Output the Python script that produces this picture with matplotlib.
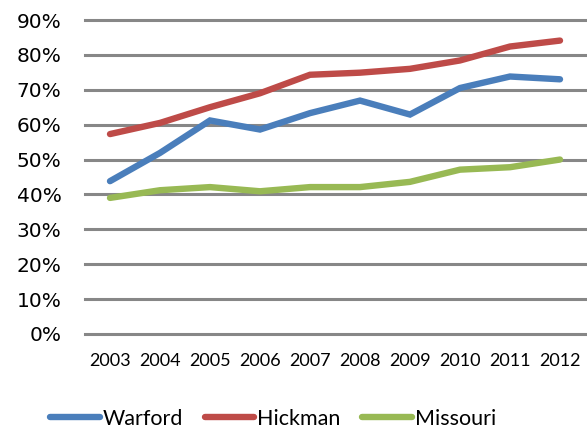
import matplotlib
matplotlib.use("Agg")
import matplotlib.pyplot as plt
from matplotlib.ticker import PercentFormatter

years = ["2003", "2004", "2005", "2006", "2007", "2008", "2009", "2010", "2011", "2012"]
warford = [0.438, 0.519, 0.612, 0.586, 0.633, 0.669, 0.629, 0.705, 0.738, 0.730]
hickman = [0.573, 0.605, 0.650, 0.690, 0.743, 0.749, 0.760, 0.784, 0.824, 0.841]
missouri = [0.390, 0.412, 0.421, 0.409, 0.421, 0.421, 0.436, 0.471, 0.478, 0.500]

series = [
    ("Warford", warford, "#4a7ebb"),
    ("Hickman", hickman, "#be4b48"),
    ("Missouri", missouri, "#98b954"),
]

fig = plt.figure(figsize=(5.87, 4.29), dpi=100)
ax = fig.add_axes([85 / 587, 1 - 335 / 429, 500 / 587, 315 / 429])

x = list(range(len(years)))
for name, vals, color in series:
    ax.plot(x, vals, color=color, linewidth=4.6, label=name,
            solid_capstyle="round", solid_joinstyle="miter", zorder=3)

ax.set_xlim(-0.5, len(years) - 0.5)
ax.set_ylim(-0.003, 0.9)
ax.set_yticks([i / 10 for i in range(10)])
ax.yaxis.set_major_formatter(PercentFormatter(1.0, decimals=0))
ax.grid(axis="y", color="#878787", linewidth=2.2, zorder=1)
for gl in ax.get_ygridlines():
    gl.set_clip_on(False)
ax.set_axisbelow(True)

for s in ax.spines.values():
    s.set_visible(False)

ax.set_xticks(x)
ax.set_xticklabels(years, family="Lato", fontsize=13)
ax.tick_params(axis="x", length=0, pad=13)
ax.tick_params(axis="y", length=0, pad=17)
for lbl in ax.get_yticklabels():
    lbl.set_family("DejaVu Sans")
    lbl.set_fontsize(14.5)

leg = ax.legend(loc="center left", bbox_to_anchor=(-35 / 500, -0.266),
                ncol=3, frameon=False, prop={"family": "Lato", "size": 15.5},
                handlelength=2.3, handletextpad=0.15, columnspacing=1.0,
                borderpad=0, borderaxespad=0)

fig.savefig("out.png", dpi=100)
